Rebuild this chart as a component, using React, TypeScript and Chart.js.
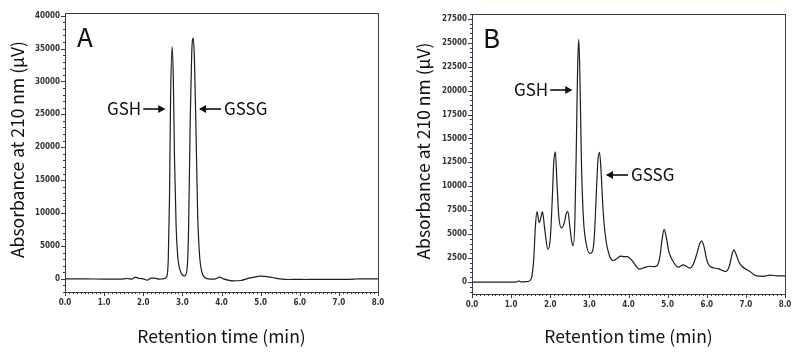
import React, { useEffect, useRef } from "react";
import { Chart, registerables } from "chart.js";
Chart.register(...registerables);

// ---- Data ----
const timesA = [0, 0.5, 1.0, 1.4, 1.5, 1.6, 1.7, 1.8, 1.9, 2.0, 2.1, 2.2, 2.3, 2.4, 2.5, 2.6, 2.64, 2.67, 2.7, 2.74, 2.77, 2.8, 2.84, 2.88, 2.93, 3.0, 3.06, 3.12, 3.16, 3.2, 3.24, 3.28, 3.31, 3.35, 3.39, 3.44, 3.5, 3.58, 3.7, 3.85, 3.95, 4.05, 4.3, 4.5, 4.7, 4.9, 5.0, 5.1, 5.3, 5.5, 5.7, 6.0, 6.1, 6.5, 7.0, 7.4, 7.5, 8.0];
const signalA = [0, 0, -50, -30, 0, 50, -50, 250, 50, 0, -200, 100, 100, -50, 0, 300, 3000, 12000, 28000, 35300, 30000, 18000, 8000, 3500, 1500, 600, 450, 1500, 8000, 24000, 34500, 36600, 33000, 22000, 10000, 3500, 1000, 200, -50, 0, 250, 0, -300, -250, 100, 350, 400, 380, 200, 0, -100, -80, -100, -70, -80, -50, 0, 0];

const timesB = [0, 0.5, 1.0, 1.15, 1.2, 1.25, 1.4, 1.48, 1.53, 1.58, 1.62, 1.66, 1.72, 1.76, 1.8, 1.86, 1.94, 2.0, 2.05, 2.09, 2.13, 2.17, 2.22, 2.29, 2.36, 2.41, 2.45, 2.5, 2.55, 2.59, 2.63, 2.67, 2.7, 2.73, 2.76, 2.8, 2.85, 2.92, 3.01, 3.08, 3.13, 3.18, 3.22, 3.26, 3.3, 3.35, 3.42, 3.52, 3.62, 3.72, 3.8, 3.9, 3.97, 4.1, 4.28, 4.4, 4.54, 4.65, 4.73, 4.8, 4.86, 4.91, 4.96, 5.03, 5.12, 5.27, 5.4, 5.57, 5.65, 5.75, 5.82, 5.87, 5.93, 6.0, 6.08, 6.29, 6.49, 6.58, 6.64, 6.69, 6.75, 6.82, 6.9, 7.1, 7.27, 7.45, 7.55, 7.62, 7.8, 8.0];
const signalB = [0, 0, 0, 20, 120, 20, 50, 150, 600, 2500, 5800, 7350, 6200, 6700, 7350, 5500, 3400, 4500, 8500, 12500, 13600, 10500, 6800, 5650, 6200, 7200, 7350, 5800, 4200, 3800, 6500, 15000, 22500, 25350, 21000, 12000, 6500, 4000, 3000, 3200, 5000, 9500, 12800, 13550, 11500, 7500, 4500, 2700, 2250, 2500, 2700, 2650, 2650, 2200, 1350, 1500, 1650, 1600, 1700, 2600, 4500, 5500, 4800, 3200, 2300, 1550, 1800, 1450, 1800, 3000, 4000, 4300, 3700, 2300, 1650, 1400, 1100, 1700, 2800, 3350, 2900, 2100, 1650, 1100, 650, 600, 680, 720, 640, 640];

const xTickValues = [0, 1, 2, 3, 4, 5, 6, 7, 8];
const xTickLabels = ["0.0", "1.0", "2.0", "3.0", "4.0", "5.0", "6.0", "7.0", "8.0"];
const yTicksA = [0, 5000, 10000, 15000, 20000, 25000, 30000, 35000, 40000];
const yTicksB = [0, 2500, 5000, 7500, 10000, 12500, 15000, 17500, 20000, 22500, 25000, 27500];

const xTitle = "Retention time (min)";
const yTitle = "Absorbance at 210 nm (µV)";

const AXIS_COLOR = "#3a3a4a";
const TICK_FONT = "'Liberation Sans Narrow', 'DejaVu Sans Condensed', sans-serif";
const TEXT_FONT = "'Noto Sans CJK JP', 'Noto Sans', sans-serif";

type Note = { text: string; x: number; y: number; arrow: "right" | "left" };

interface PanelProps {
  letter: string;
  times: number[];
  signal: number[];
  yTicks: number[];
  yMin: number;
  yMax: number;
  yMinor: number;
  yAxisWidth: number;
  padTop: number;
  padRight: number;
  xAxisHeight: number;
  letterPos: [number, number];
  yTitleX: number;
  notes: Note[];
}

function drawArrow(ctx: CanvasRenderingContext2D, x1: number, x2: number, y: number) {
  ctx.beginPath();
  ctx.moveTo(x1, y);
  ctx.lineTo(x2, y);
  ctx.lineWidth = 1.6;
  ctx.stroke();
  const dir = x2 > x1 ? 1 : -1;
  ctx.beginPath();
  ctx.moveTo(x2 + dir * 1, y);
  ctx.lineTo(x2 - dir * 6, y - 4);
  ctx.lineTo(x2 - dir * 6, y + 4);
  ctx.closePath();
  ctx.fill();
}

function Panel(p: PanelProps) {
  const ref = useRef<HTMLCanvasElement | null>(null);
  useEffect(() => {
    if (!ref.current) return;
    const data = p.times.map((t, i) => ({ x: t, y: p.signal[i] }));
    const panelPlugin = {
      id: "panel",
      afterDraw(chart: any) {
        const { ctx, chartArea: a, scales } = chart;
        const x = scales.x;
        const y = scales.y;
        ctx.save();
        ctx.strokeStyle = AXIS_COLOR;
        ctx.fillStyle = AXIS_COLOR;
        ctx.lineWidth = 1;
        ctx.strokeRect(Math.round(a.left) + 0.5, Math.round(a.top) + 0.5, Math.round(a.right - a.left), Math.round(a.bottom - a.top));
        ctx.beginPath();
        for (let i = 0; i <= 80; i++) {
          const px = Math.round(x.getPixelForValue(i / 10)) + 0.5;
          const len = i % 10 === 0 ? 4 : 2;
          ctx.moveTo(px, a.bottom);
          ctx.lineTo(px, a.bottom + len);
        }
        const majorStep = p.yTicks[1] - p.yTicks[0];
        for (let v = Math.ceil(p.yMin / p.yMinor) * p.yMinor; v <= p.yMax; v += p.yMinor) {
          const py = Math.round(y.getPixelForValue(v)) + 0.5;
          const len = v % majorStep === 0 ? 4 : 2;
          ctx.moveTo(a.left - len, py);
          ctx.lineTo(a.left, py);
        }
        ctx.stroke();

        ctx.fillStyle = "#111";
        ctx.strokeStyle = "#111";
        ctx.font = `400 17.5px ${TEXT_FONT}`;
        ctx.textAlign = "center";
        ctx.textBaseline = "middle";
        ctx.fillText(xTitle, (a.left + a.right) / 2, 336);
        ctx.save();
        ctx.translate(p.yTitleX, (a.top + a.bottom) / 2 - 3);
        ctx.rotate(-Math.PI / 2);
        ctx.fillText(yTitle, 0, 0);
        ctx.restore();

        ctx.font = `400 26px ${TEXT_FONT}`;
        ctx.textAlign = "left";
        ctx.fillText(p.letter, p.letterPos[0], p.letterPos[1]);

        ctx.font = `400 17px ${TEXT_FONT}`;
        for (const n of p.notes) {
          if (n.arrow === "right") {
            ctx.textAlign = "left";
            ctx.fillText(n.text, n.x, n.y);
            const w = ctx.measureText(n.text).width;
            drawArrow(ctx, n.x + w + 2, n.x + w + 23, n.y);
          } else {
            drawArrow(ctx, n.x + 21, n.x, n.y);
            ctx.textAlign = "left";
            ctx.fillText(n.text, n.x + 24, n.y);
          }
        }
        ctx.restore();
      },
    };

    const chart = new Chart(ref.current, {
      type: "line",
      data: {
        datasets: [
          {
            data,
            borderColor: "#1e1e1e",
            borderWidth: 1.2,
            pointRadius: 0,
            cubicInterpolationMode: "monotone",
            fill: false,
          },
        ],
      },
      options: {
        animation: false,
        responsive: false,
        events: [],
        layout: { padding: { left: 0, right: p.padRight, top: p.padTop, bottom: 0 } },
        plugins: { legend: { display: false }, tooltip: { enabled: false } },
        scales: {
          x: {
            type: "linear",
            min: 0,
            max: 8,
            grid: { display: false, drawTicks: false },
            border: { display: false },
            afterFit: (s: any) => {
              s.height = p.xAxisHeight;
            },
            afterBuildTicks: (s: any) => {
              s.ticks = xTickValues.map((v) => ({ value: v }));
            },
            ticks: {
              padding: 6,
              maxRotation: 0,
              autoSkip: false,
              color: "#333",
              font: { family: TICK_FONT, size: 8, weight: "bold" },
              callback: (v: any) => {
                const i = xTickValues.indexOf(Number(v));
                return i >= 0 ? xTickLabels[i] : "";
              },
            },
          },
          y: {
            type: "linear",
            min: p.yMin,
            max: p.yMax,
            grid: { display: false, drawTicks: false },
            border: { display: false },
            afterFit: (s: any) => {
              s.width = p.yAxisWidth;
            },
            afterBuildTicks: (s: any) => {
              s.ticks = p.yTicks.map((v) => ({ value: v }));
            },
            ticks: {
              padding: 5,
              autoSkip: false,
              color: "#333",
              font: { family: TICK_FONT, size: 8, weight: "bold" },
              callback: (v: any) => String(v),
            },
          },
        },
      },
      plugins: [panelPlugin],
    } as any);
    return () => chart.destroy();
  }, []);
  return <canvas ref={ref} width={400} height={357} style={{ width: 400, height: 357, display: "block" }} />;
}

export default function App() {
  return (
    <div style={{ position: "fixed", left: 0, top: 0, width: 800, height: 357, background: "#fff", display: "flex" }}>
      <Panel
        letter="A"
        times={timesA}
        signal={signalA}
        yTicks={yTicksA}
        yMin={-2000}
        yMax={40400}
        yMinor={1000}
        yAxisWidth={65}
        padTop={13}
        padRight={22}
        xAxisHeight={65}
        letterPos={[77, 37]}
        yTitleX={17}
        notes={[
          { text: "GSH", x: 107, y: 109, arrow: "right" },
          { text: "GSSG", x: 200, y: 109, arrow: "left" },
        ]}
      />
      <Panel
        letter="B"
        times={timesB}
        signal={signalB}
        yTicks={yTicksB}
        yMin={-1250}
        yMax={28000}
        yMinor={500}
        yAxisWidth={72}
        padTop={14}
        padRight={15}
        xAxisHeight={63}
        letterPos={[83, 38]}
        yTitleX={23}
        notes={[
          { text: "GSH", x: 114, y: 90, arrow: "right" },
          { text: "GSSG", x: 207, y: 175, arrow: "left" },
        ]}
      />
    </div>
  );
}
